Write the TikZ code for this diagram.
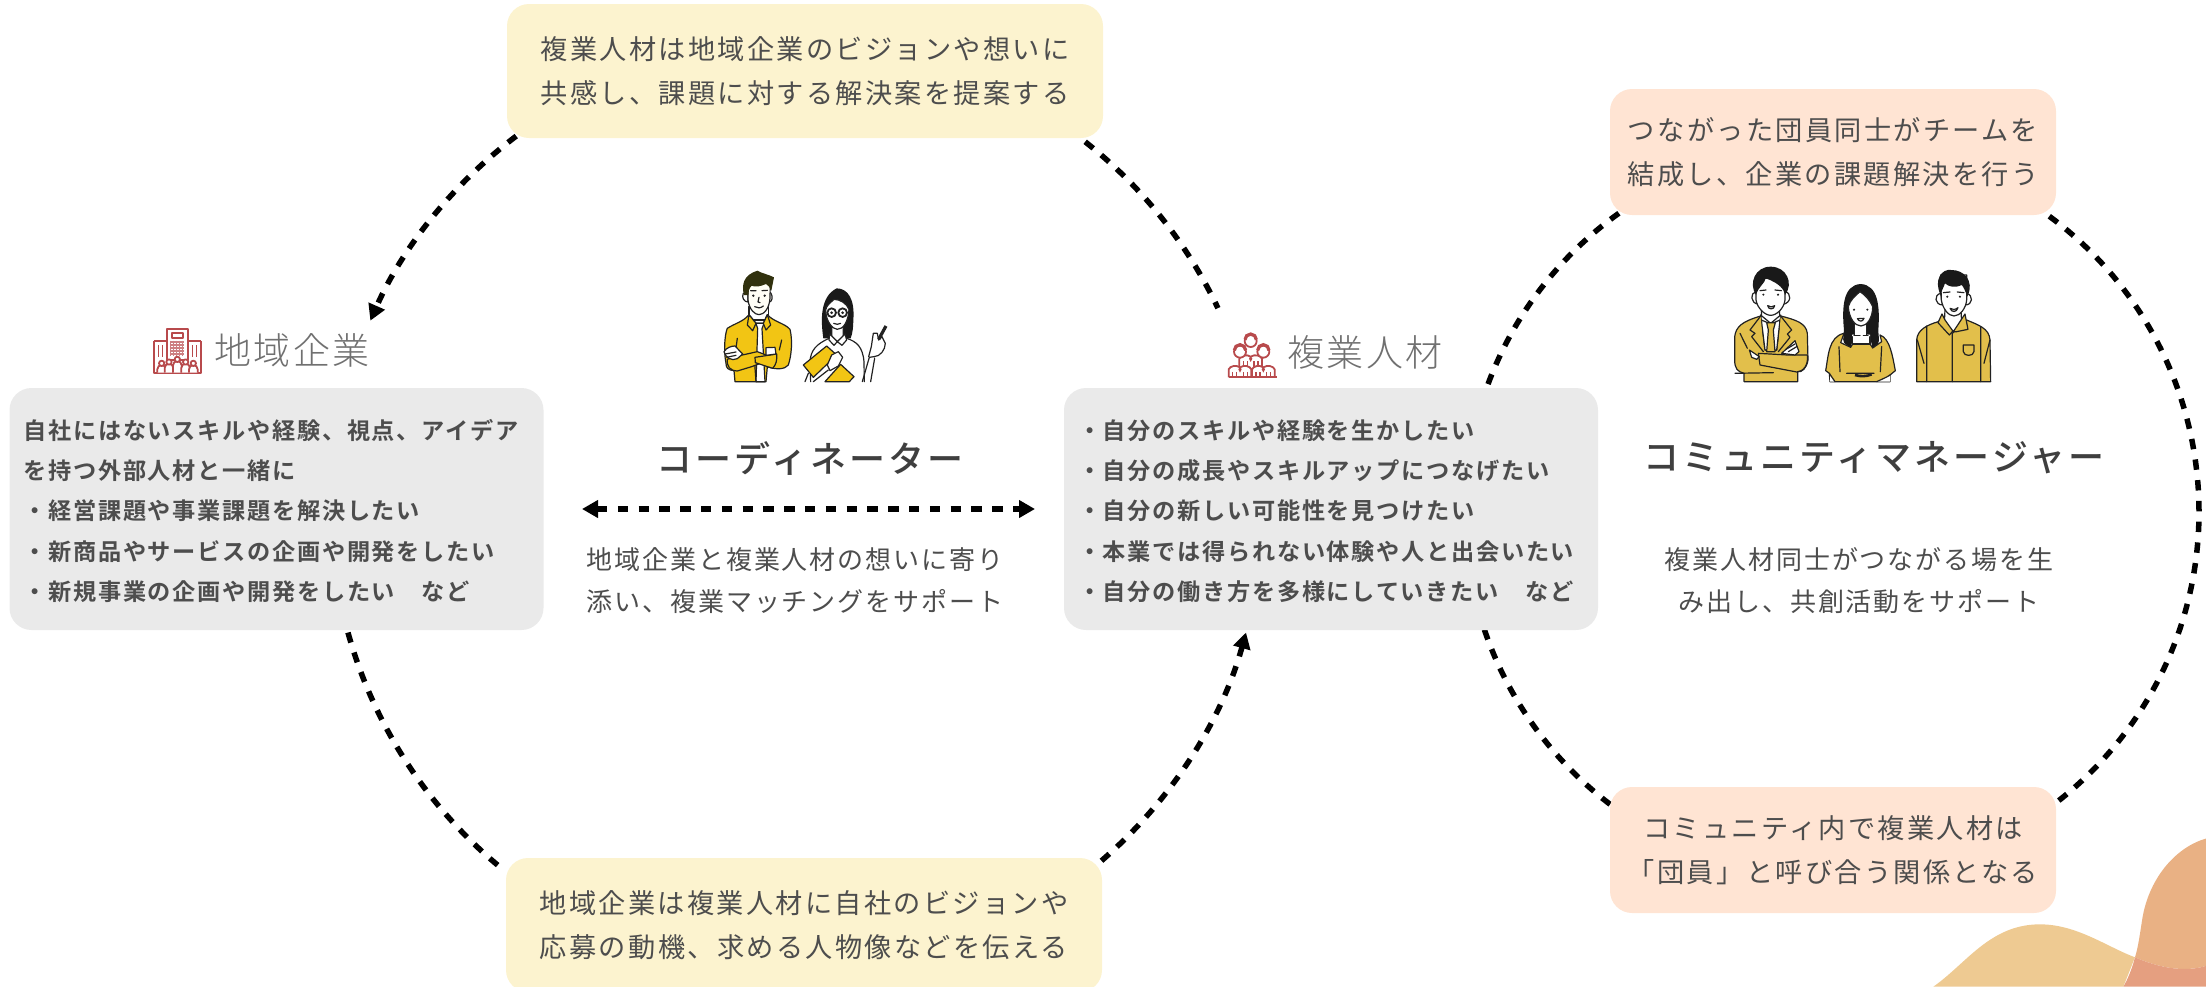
\documentclass[tikz,border=0pt]{standalone}
\usepackage{fontspec}
\newfontfamily\jpbody[LetterSpace=8.5]{Noto Sans CJK JP}
\newfontfamily\jprole[LetterSpace=7.4]{Noto Sans CJK JP}
\newfontfamily\jpbold[LetterSpace=7.3]{Noto Sans CJK JP Bold}
\newfontfamily\jphead[LetterSpace=7]{Noto Sans CJK JP Light}
\newfontfamily\jptitle[LetterSpace=8.6]{Noto Sans CJK JP Medium}
\usetikzlibrary{arrows.meta}
\definecolor{txt}{HTML}{4D4D4D}
\definecolor{titletxt}{HTML}{3F3F3F}
\definecolor{headgrey}{HTML}{707070}
\definecolor{noteyellow}{HTML}{FCF3CF}
\definecolor{notepeach}{HTML}{FFE4D3}
\definecolor{panelgrey}{HTML}{EAEAEA}
\definecolor{iconred}{HTML}{B84A4C}
\definecolor{ink}{HTML}{222222}
\definecolor{vivid}{HTML}{F2C514}
\definecolor{mustard}{HTML}{E2BF4B}
\definecolor{blobsand}{HTML}{EECA92}
\definecolor{bloborange}{HTML}{E9B184}
\definecolor{blobmix}{HTML}{E59F80}
\tikzset{
  notebox/.style={rounded corners=11pt,inner sep=0pt,align=center,text=txt,
    font=\jpbody\fontsize{13.6}{21.8}\selectfont},
  yellownote/.style={notebox,fill=noteyellow,minimum width=298pt,minimum height=67pt},
  peachnote/.style={notebox,fill=notepeach,minimum width=223pt,minimum height=63pt},
  panel/.style={rounded corners=11pt,fill=panelgrey,minimum width=267pt,minimum height=121pt,
    inner xsep=7pt,inner ysep=0pt,text width=253pt,align=left,text=txt,
    font=\jpbold\fontsize{11.6}{20.2}\selectfont},
  heading/.style={inner sep=0pt,text=headgrey,font=\jphead\fontsize{18.5}{20}\selectfont},
  roletitle/.style={inner sep=0pt,text=titletxt,font=\jptitle\fontsize{18}{20}\selectfont},
  roletext/.style={inner sep=0pt,align=center,text=txt,font=\jprole\fontsize{13}{21}\selectfont},
  linkline/.style={draw=black,line width=2.75pt,dash pattern=on 5.2pt off 5.2pt},
  tip/.style={-{Triangle[length=8pt,width=8.5pt]}},
  outline/.style={draw=ink,line width=.6pt,line join=round,line cap=round},
  redline/.style={draw=iconred,line width=.9pt,line join=round},
}
\begin{document}
\begin{tikzpicture}[x=0.5pt,y=-0.5pt]
\useasboundingbox (0,0) rectangle (2206,986);

% corner decoration
\begin{scope}[shift={(1900,800)},scale=0.3333]
  \fill[blobsand] (100,560) .. controls (200,490) and (270,373) .. (420,373)
    .. controls (530,373) and (620,440) .. (705,472) -- (670,560) -- cycle;
  \fill[bloborange] (920,115) .. controls (830,140) and (750,230) .. (728,350)
    .. controls (720,400) and (715,440) .. (705,472)
    .. controls (770,500) and (850,520) .. (920,497) -- cycle;
  \fill[blobmix] (705,472) .. controls (770,500) and (850,520) .. (920,497) -- (920,560) -- (670,560)
    .. controls (685,535) and (698,500) .. (705,472) -- cycle;
\end{scope}

% circle centres
\coordinate (cL) at (797,508);
\coordinate (cR) at (1832,512);

% left cycle
\draw[linkline,tip] (cL) ++(232.95:466) arc[start angle=232.95,end angle=203.7,radius=466];
\draw[linkline] (cL) ++(308.2:466) arc[start angle=308.2,end angle=334.6,radius=466];
\draw[linkline] (cL) ++(164.5:466) arc[start angle=164.5,end angle=128.8,radius=466];
\draw[linkline,tip] (cL) ++(49.2:466) arc[start angle=49.2,end angle=15.5,radius=466];

% right cycle
\draw[linkline] (cR) ++(234.5:367) arc[start angle=234.5,end angle=200,radius=367];
\draw[linkline] (cR) ++(161.3:367) arc[start angle=161.3,end angle=127,radius=367];
\draw[linkline] (cR) ++(306.3:367) arc[start angle=306.3,end angle=411.9,radius=367];

% notes
\node[yellownote] (topnote) at (805,71) {複業人材は地域企業のビジョンや想いに\\共感し、課題に対する解決案を提案する};
\node[yellownote] (botnote) at (804,925) {地域企業は複業人材に自社のビジョンや\\応募の動機、求める人物像などを伝える};
\node[peachnote] (teamnote) at (1833,152) {つながった団員同士がチームを\\結成し、企業の課題解決を行う};
\node[peachnote] (commnote) at (1833,850) {コミュニティ内で複業人材は\\「団員」と呼び合う関係となる};

% grey panels
\node[panel] (firm) at (276.5,509) {\rule{0pt}{12pt}自社にはないスキルや経験、視点、アイデア\\を持つ外部人材と一緒に\\・経営課題や事業課題を解決したい\\・新商品やサービスの企画や開発をしたい\\・新規事業の企画や開発をしたい　など};
\node[panel] (talent) at (1331,509) {\rule{0pt}{12pt}・自分のスキルや経験を生かしたい\\・自分の成長やスキルアップにつなげたい\\・自分の新しい可能性を見つけたい\\・本業では得られない体験や人と出会いたい\\・自分の働き方を多様にしていきたい　など};

% headings
\node[heading] (firmhead) at (292,350) {地域企業};
\node[heading] (talenthead) at (1365,352) {複業人材};

% role titles and descriptions
\node[roletitle] (coordtitle) at (810,458) {コーディネーター};
\node[roletitle] (commtitle) at (1874,458) {コミュニティマネージャー};
\node[roletext] (coordtext) at (795,581) {地域企業と複業人材の想いに寄り\\添い、複業マッチングをサポート};
\node[roletext] (commtext) at (1859,581) {複業人材同士がつながる場を生\\み出し、共創活動をサポート};

% two-way link between the panels
\coordinate (linkL) at (582,509);
\coordinate (linkR) at (1035,509);
\draw[linkline,{Triangle[length=8pt,width=8.5pt]}-{Triangle[length=8pt,width=8.5pt]}] (linkL) -- (linkR);

% company icon
\begin{scope}[shift={(130,300)},scale=0.3333]
  \draw[redline,fill=white] (110,88) rectangle (175,180);
  \draw[redline] (72,122) -- (110,122) (175,122) -- (212,122) (72,122) -- (72,218) -- (212,218) -- (212,122);
  \draw[redline] (126,100) rectangle (158,114);
  \foreach \gx in {122,131,140,149,158}
    \draw[iconred!70,line width=.6pt] (\gx,122) -- (\gx,168);
  \foreach \gy in {126,135,144,153,162}
    \draw[iconred!70,line width=.6pt] (120,\gy) -- (162,\gy);
  \foreach \sx in {85,97,188,200}
    \draw[iconred,line width=.6pt] (\sx,136) -- (\sx,172);
  \foreach \hx/\hy in {95/190,117/186,142/178,167/186,190/190}{
    \draw[redline,fill=white] (\hx-13,218) -- (\hx-13,\hy+18) arc[start angle=180,end angle=360,radius=13] -- (\hx+13,218);
    \draw[redline,fill=white] (\hx,\hy) circle[radius=8];
  }
\end{scope}

% talent icon
\begin{scope}[shift={(1200,280)},scale=0.3333]
  \foreach \hx/\hy/\by in {152/183/222,120/215/254,190/215/254}{
    \draw[redline,fill=white] (\hx-34,292) -- (\hx-34,\by+14)
      .. controls (\hx-30,\by+4) and (\hx-12,\by) .. (\hx,\by+8)
      .. controls (\hx+12,\by) and (\hx+30,\by+4) .. (\hx+34,\by+14) -- (\hx+34,292);
    \foreach \ox in {-22,-10,10,22}
      \draw[iconred,line width=.6pt] (\hx+\ox,\by+22) -- (\hx+\ox,292);
    \draw[redline,fill=white] (\hx,\hy) circle[radius=18];
    \draw[iconred,line width=1.6pt] (\hx-17,\hy-4) arc[start angle=180,end angle=360,radius=17];
    \fill[iconred] (\hx,\by+6) -- (\hx-5,\by+14) -- (\hx,\by+24) -- (\hx+5,\by+14) -- cycle;
  }
  \draw[redline] (86,292) -- (230,292);
\end{scope}

% coordinator pair
\begin{scope}[shift={(680,240)},scale=0.3333]
  % man: neck
  \draw[outline,fill=white] (207,200) -- (207,240) -- (265,240) -- (265,200) -- cycle;
  % man: ears
  \draw[outline,fill=white] (190,160) .. controls (184,172) and (192,186) .. (204,186) -- (204,160) -- cycle;
  \draw[outline,fill=white] (272,158) .. controls (280,170) and (276,186) .. (268,186) -- (268,158) -- cycle;
  % man: face
  \draw[outline,fill=white!96!yellow] (204,120) -- (204,180) .. controls (208,210) and (225,224) .. (237,224)
    .. controls (252,224) and (268,205) .. (270,175) -- (271,120) -- cycle;
  \fill[ink] (220,167) circle[radius=4] (254,167) circle[radius=4];
  \draw[outline] (212,152) -- (228,152) (246,152) -- (262,151) (237,172) -- (234,186) -- (240,188)
    (224,200) .. controls (232,205) and (242,205) .. (250,198);
  % man: hair
  \fill[ink!75!yellow!55!black] (192,165) .. controls (184,135) and (190,105) .. (232,92)
    .. controls (245,100) and (265,103) .. (282,112) -- (274,152) .. controls (268,142) and (266,135) .. (258,132)
    .. controls (240,140) and (225,142) .. (215,137) .. controls (207,145) and (205,155) .. (205,165) -- cycle;
  % man: shirt
  \draw[outline,fill=vivid] (165,425) -- (162,392) .. controls (145,390) and (138,385) .. (138,370)
    .. controls (130,330) and (135,280) .. (142,265) .. controls (165,250) and (190,245) .. (207,224)
    -- (228,250) -- (250,250) -- (262,224) .. controls (280,245) and (315,250) .. (330,268)
    .. controls (338,300) and (335,345) .. (325,375) .. controls (315,388) and (290,390) .. (262,380)
    -- (258,425) -- cycle;
  \draw[outline,fill=white] (228,250) -- (252,250) -- (246,266) -- (255,425) -- (228,425) -- (233,266) -- cycle;
  \draw[outline,fill=vivid] (207,224) -- (202,255) -- (218,272) -- (228,250) -- cycle;
  \draw[outline,fill=vivid] (262,224) -- (272,255) -- (258,270) -- (250,250) -- cycle;
  \draw[outline] (172,295) -- (165,345) (305,300) -- (298,330) (228,425) -- (224,370);
  % man: folded arms
  \draw[outline,fill=vivid] (165,350) -- (232,335) -- (258,345) -- (262,362) -- (215,380) -- (172,393)
    .. controls (150,392) and (140,380) .. (142,358) -- cycle;
  \draw[outline,fill=vivid] (225,352) -- (258,347) -- (290,342) .. controls (292,360) and (288,375) .. (278,385) -- (226,368) -- cycle;
  \draw[outline,fill=white] (132,335) .. controls (140,322) and (155,318) .. (165,318) -- (188,342) -- (172,356)
    .. controls (155,365) and (136,352) .. (132,335) -- cycle;
  \draw[outline,fill=white] (258,323) -- (285,322) -- (288,342) -- (258,346) -- cycle;
  \draw[outline] (136,342) -- (168,336) (140,352) -- (168,346);
  % woman: hair
  \fill[black!90] (430,295) .. controls (422,240) and (420,170) .. (470,145)
    .. controls (505,145) and (525,180) .. (520,240) .. controls (520,260) and (518,280) .. (512,295) -- cycle;
  % woman: blouse
  \draw[outline,fill=white] (392,425) -- (390,365) .. controls (392,330) and (410,312) .. (447,295)
    -- (472,305) -- (500,295) .. controls (530,305) and (548,320) .. (552,365) -- (553,425);
  \draw[outline,fill=white] (455,262) -- (455,290) -- (472,305) -- (490,290) -- (490,262) -- cycle;
  \draw[outline,fill=white] (449,282) -- (447,300) -- (462,316) -- (472,305) -- (486,316) -- (500,300) -- (495,282) -- (472,305) -- cycle;
  % woman: face
  \draw[outline,fill=white] (437,210) .. controls (438,245) and (458,268) .. (472,268)
    .. controls (490,268) and (505,245) .. (507,208) .. controls (500,190) and (480,178) .. (462,178)
    .. controls (450,190) and (440,195) .. (437,210) -- cycle;
  \draw[ink,line width=.9pt] (455,218) circle[radius=13] (488,218) circle[radius=13];
  \fill[ink] (455,218) circle[radius=4.5] (488,218) circle[radius=4.5];
  \draw[outline] (461,250) .. controls (468,254) and (476,254) .. (482,250);
  % woman: folder and hand
  \draw[outline,fill=vivid] (370,375) -- (440,318) -- (470,345) -- (400,412) -- cycle;
  \draw[outline,fill=vivid] (435,425) -- (482,373) -- (522,410) -- (508,425) -- cycle;
  \draw[outline,fill=white] (442,375) -- (455,345) -- (475,335) -- (488,352) -- (475,378) -- (450,392) -- cycle;
  \draw[outline] (375,425) -- (385,400) (400,425) -- (445,390);
  % woman: raised arm with pen
  \draw[outline,fill=white] (547,425) -- (568,352) -- (582,350) .. controls (600,350) and (616,330) .. (616,310)
    -- (606,290) -- (596,300) -- (592,280) -- (580,280) -- (574,320) -- (566,350)
    (572,425) -- (584,355);
  \draw[ink,line width=1.6pt] (596,298) -- (618,258);
\end{scope}

% community manager trio
\begin{scope}[shift={(1700,240)},scale=0.3333]
  % left man: neck and ears
  \draw[outline,fill=white] (185,205) -- (183,250) -- (240,250) -- (238,205) -- cycle;
  \draw[outline,fill=white] (168,155) .. controls (150,158) and (150,190) .. (176,193) -- (168,155) -- cycle;
  \draw[outline,fill=white] (255,155) .. controls (275,158) and (275,190) .. (248,193) -- (255,155) -- cycle;
  % left man: face and hair
  \draw[outline,fill=white] (168,115) -- (168,180) .. controls (172,205) and (195,226) .. (212,226)
    .. controls (230,226) and (252,205) .. (255,180) -- (255,115) -- cycle;
  \fill[black!90] (168,165) .. controls (145,130) and (165,80) .. (212,80)
    .. controls (260,80) and (282,130) .. (255,165) .. controls (253,150) and (240,130) .. (197,115)
    .. controls (195,130) and (175,140) .. (168,165) -- cycle;
  \fill[ink] (190,164) circle[radius=3.5] (234,164) circle[radius=3.5];
  \draw[outline] (180,152) -- (198,150) (225,150) -- (244,152);
  \draw[outline,fill=white] (203,197) .. controls (210,202) and (218,202) .. (224,197) .. controls (222,210) and (205,210) .. (203,197) -- cycle;
  % left man: suit
  \draw[outline,fill=white] (182,225) -- (184,335) -- (240,335) -- (242,225) -- (212,250) -- cycle;
  \draw[outline,fill=mustard] (132,425) -- (132,400) .. controls (112,395) and (104,385) .. (104,360)
    -- (104,290) .. controls (108,260) and (125,245) .. (182,228) -- (195,330) -- (230,330) -- (242,228)
    .. controls (290,240) and (318,250) .. (322,280) -- (324,360) .. controls (320,385) and (305,398) .. (293,395) -- (293,425) -- cycle;
  \draw[outline,fill=white] (184,240) -- (195,330) -- (230,330) -- (240,240) -- (212,252) -- cycle;
  \draw[outline,fill=mustard] (200,248) -- (226,248) -- (220,270) -- (225,335) -- (200,335) -- (205,270) -- cycle;
  \draw[outline,fill=mustard] (182,228) -- (150,270) -- (165,280) -- (155,290) -- (190,335);
  \draw[outline,fill=mustard] (242,228) -- (275,270) -- (262,282) -- (270,292) -- (235,335);
  \draw[outline,fill=mustard] (175,340) -- (262,345) -- (322,345) .. controls (326,375) and (310,395) .. (290,396) -- (180,375) -- cycle;
  \draw[outline,fill=white] (245,340) -- (285,302) -- (297,335) -- (285,345) -- cycle;
  \draw[outline] (258,328) -- (285,312) (265,335) -- (290,320);
  \draw[outline,fill=white] (148,330) -- (178,350) -- (170,358) -- (155,352) -- cycle;
  \draw[outline] (120,280) -- (142,325) (105,400) -- (220,398);
  % woman in the middle: hair behind
  \fill[black!90] (440,315) .. controls (425,310) and (430,290) .. (432,270) .. controls (425,200) and (430,135) .. (482,132)
    .. controls (535,135) and (540,200) .. (535,270) .. controls (535,295) and (545,315) .. (518,326)
    -- (510,290) -- (460,290) -- (452,325) -- cycle;
  % woman: dress
  \draw[outline,fill=mustard] (390,425) -- (388,400) -- (377,392) .. controls (385,350) and (385,290) .. (432,280)
    -- (422,308) -- (452,322) -- (458,312) -- (510,312) -- (518,324) -- (545,305) -- (540,285)
    .. controls (570,295) and (578,350) .. (586,392) -- (570,405) -- (570,425) -- cycle;
  % woman: neck and neckline
  \fill[white] (464,250) rectangle (500,286) (456,284) rectangle (510,311);
  \draw[outline] (464,250) -- (464,286) (500,250) -- (500,286) (458,290) -- (458,312) -- (510,312) -- (510,290);
  \draw[outline] (462,286) -- (480,286) (490,286) -- (504,286);
  % woman: face
  \draw[outline,fill=white] (445,200) .. controls (447,235) and (465,258) .. (483,258)
    .. controls (500,258) and (518,235) .. (518,200) .. controls (510,180) and (495,165) .. (480,155)
    .. controls (468,165) and (450,180) .. (445,200) -- cycle;
  \fill[ink] (462,209) circle[radius=3.5] (502,209) circle[radius=3.5];
  \draw[outline] (472,236) .. controls (478,246) and (488,246) .. (492,235) -- cycle;
  \draw[outline] (417,320) -- (420,395) (545,320) -- (541,395) (440,400) -- (522,400);
  \draw[ink,line width=1.3pt] (465,405) .. controls (480,410) and (500,410) .. (515,403);
  % woman: forearms
  \fill[white] (390,408) -- (405,425) -- (390,425) -- cycle (570,408) -- (530,425) -- (570,425) -- cycle;
  \draw[outline] (388,400) .. controls (395,410) and (400,418) .. (405,425) (570,405) .. controls (560,412) and (545,418) .. (530,425);
  % right man: neck and ears
  \draw[outline,fill=white] (735,210) -- (733,250) -- (760,275) -- (785,250) -- (783,210) -- cycle;
  \draw[outline,fill=white] (722,160) .. controls (700,165) and (705,195) .. (728,195) -- (722,160) -- cycle;
  \draw[outline,fill=white] (800,160) .. controls (820,165) and (820,195) .. (795,195) -- (800,160) -- cycle;
  % right man: face and hair
  \draw[outline,fill=white] (722,105) -- (724,180) .. controls (728,205) and (745,228) .. (762,228)
    .. controls (780,228) and (798,205) .. (800,180) -- (800,105) -- cycle;
  \fill[black!90] (722,165) .. controls (700,120) and (725,85) .. (755,90)
    .. controls (790,90) and (825,120) .. (802,170) .. controls (795,150) and (790,140) .. (785,135)
    .. controls (765,145) and (745,140) .. (735,130) .. controls (730,145) and (725,150) .. (722,165) -- cycle;
  \fill[ink] (742,170) circle[radius=3.5] (780,170) circle[radius=3.5];
  \draw[outline] (730,158) -- (750,156) (772,156) -- (792,158);
  \draw[outline,fill=white] (750,205) .. controls (758,210) and (765,210) .. (774,203) .. controls (770,218) and (755,218) .. (750,205) -- cycle;
  % right man: shirt
  \draw[outline,fill=mustard] (650,425) -- (650,300) .. controls (652,270) and (680,255) .. (715,245)
    -- (757,280) -- (800,240) .. controls (835,255) and (868,265) .. (870,300) -- (872,425) -- cycle;
  \draw[outline,fill=mustard] (726,222) -- (714,248) -- (748,285) -- (757,275) -- (770,275) -- (804,268) -- (795,222) -- (760,275) -- (735,240) -- cycle;
  \draw[outline] (757,280) -- (757,425) (680,258) -- (680,425) (842,262) -- (842,425)
    (652,300) -- (672,370) (870,300) -- (852,370);
  \draw[outline,fill=mustard] (790,315) -- (822,315) -- (822,335) .. controls (820,350) and (792,350) .. (790,335) -- cycle;
\end{scope}
\end{tikzpicture}
\end{document}
